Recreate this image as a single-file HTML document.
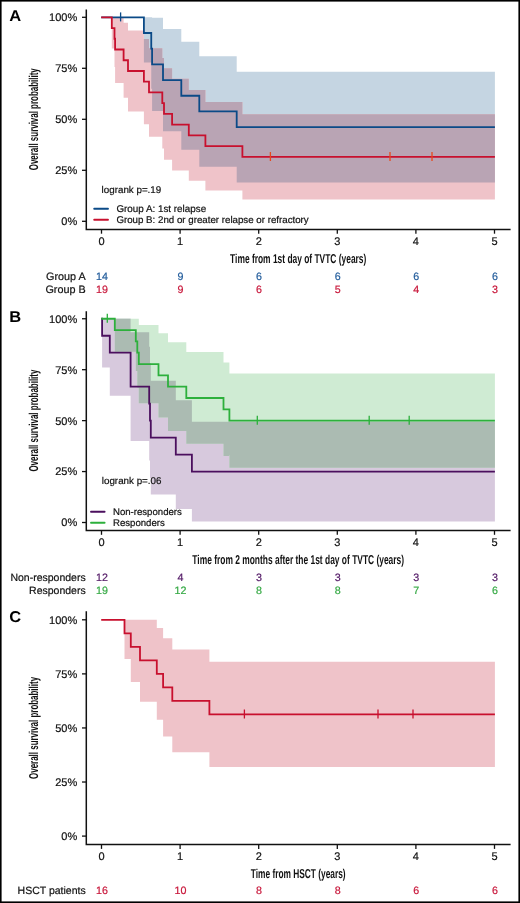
<!DOCTYPE html>
<html><head><meta charset="utf-8"><style>
html,body{margin:0;padding:0;background:#fff;}
svg{display:block;will-change:transform;}
text{font-family:"Liberation Sans", sans-serif;text-rendering:geometricPrecision;}
</style></head><body>
<svg width="520" height="903" viewBox="0 0 520 903">
<rect x="0" y="0" width="520" height="903" fill="#fff"/>

<path d="M143.90,17.30L151.25,17.30L151.25,17.30L152.10,17.30L152.10,17.65L163.00,17.65L163.00,28.89L181.30,28.89L181.30,41.81L199.30,41.81L199.30,56.17L236.70,56.17L236.70,71.86L494.90,71.86L494.90,182.43L236.70,182.43L236.70,166.74L199.30,166.74L199.30,149.71L181.30,149.71L181.30,131.25L163.00,131.25L163.00,111.10L152.10,111.10L152.10,88.70L151.25,88.70L151.25,62.54L143.90,62.54Z" fill="#c5d5e2"/>
<path d="M111.80,17.30L114.50,17.30L114.50,17.30L115.10,17.30L115.10,17.30L123.60,17.30L123.60,22.85L128.00,22.85L128.00,30.59L143.90,30.59L143.90,39.08L149.00,39.08L149.00,48.21L162.30,48.21L162.30,57.91L164.00,57.91L164.00,68.13L172.10,68.13L172.10,78.87L188.80,78.87L188.80,90.12L205.40,90.12L205.40,101.89L242.40,101.89L242.40,114.24L494.90,114.24L494.90,199.52L242.40,199.52L242.40,190.39L205.40,190.39L205.40,180.69L188.80,180.69L188.80,170.47L172.10,170.47L172.10,159.73L164.00,159.73L164.00,148.48L162.30,148.48L162.30,136.71L149.00,136.71L149.00,124.36L143.90,124.36L143.90,111.38L128.00,111.38L128.00,97.64L123.60,97.64L123.60,82.96L115.10,82.96L115.10,66.92L114.50,66.92L114.50,48.52L111.80,48.52Z" fill="#efc3c9"/>
<path d="M143.90,39.08H149.00V62.54H143.90ZM149.00,48.21H151.25V62.54H149.00ZM151.25,48.21H152.10V88.70H151.25ZM152.10,48.21H162.30V111.10H152.10ZM162.30,57.91H163.00V111.10H162.30ZM163.00,57.91H164.00V131.25H163.00ZM164.00,68.13H172.10V131.25H164.00ZM172.10,78.87H181.30V131.25H172.10ZM181.30,78.87H188.80V149.71H181.30ZM188.80,90.12H199.30V149.71H188.80ZM199.30,90.12H205.40V166.74H199.30ZM205.40,101.89H236.70V166.74H205.40ZM236.70,101.89H242.40V182.43H236.70ZM242.40,114.24H494.90V182.43H242.40Z" fill="#b9a4b4"/>
<path d="M101.20,17.30H143.90V32.99H151.25V48.68H152.10V64.38H163.00V80.07H181.30V95.76H199.30V111.45H236.70V127.15H494.90" fill="none" stroke="#0b4a87" stroke-width="1.8" stroke-linejoin="miter" stroke-linecap="butt"/>
<path d="M120.60,12.40V21.40" stroke="#0b4a87" stroke-width="1.3"/>
<path d="M101.20,17.30H111.80V28.04H114.50V38.77H115.10V49.51H123.60V60.25H128.00V70.98H143.90V81.72H149.00V92.46H162.30V103.19H164.00V113.93H172.10V124.67H188.80V135.41H205.40V146.14H242.40V156.88H494.90" fill="none" stroke="#c8102e" stroke-width="1.8" stroke-linejoin="miter" stroke-linecap="butt"/>
<path d="M270.40,151.98V160.98M390.00,151.98V160.98M432.00,151.98V160.98" stroke="#e8481c" stroke-width="1.3"/>
<path d="M86.3,9.4V229.4H510.6" fill="none" stroke="#111" stroke-width="1.5"/>
<path d="M82,221.30H86.3" stroke="#111" stroke-width="1.3"/>
<text x="77.2" y="225.20" font-size="11" text-anchor="end" fill="#111" stroke="#111" stroke-width="0.2">0%</text>
<path d="M82,170.30H86.3" stroke="#111" stroke-width="1.3"/>
<text x="77.2" y="174.20" font-size="11" text-anchor="end" fill="#111" stroke="#111" stroke-width="0.2">25%</text>
<path d="M82,119.30H86.3" stroke="#111" stroke-width="1.3"/>
<text x="77.2" y="123.20" font-size="11" text-anchor="end" fill="#111" stroke="#111" stroke-width="0.2">50%</text>
<path d="M82,68.30H86.3" stroke="#111" stroke-width="1.3"/>
<text x="77.2" y="72.20" font-size="11" text-anchor="end" fill="#111" stroke="#111" stroke-width="0.2">75%</text>
<path d="M82,17.30H86.3" stroke="#111" stroke-width="1.3"/>
<text x="77.2" y="21.20" font-size="11" text-anchor="end" fill="#111" stroke="#111" stroke-width="0.2">100%</text>
<path d="M101.50,229.4V233.70" stroke="#111" stroke-width="1.3"/>
<text x="101.50" y="244.90" font-size="11" text-anchor="middle" fill="#111" stroke="#111" stroke-width="0.2">0</text>
<path d="M180.10,229.4V233.70" stroke="#111" stroke-width="1.3"/>
<text x="180.10" y="244.90" font-size="11" text-anchor="middle" fill="#111" stroke="#111" stroke-width="0.2">1</text>
<path d="M258.70,229.4V233.70" stroke="#111" stroke-width="1.3"/>
<text x="258.70" y="244.90" font-size="11" text-anchor="middle" fill="#111" stroke="#111" stroke-width="0.2">2</text>
<path d="M337.30,229.4V233.70" stroke="#111" stroke-width="1.3"/>
<text x="337.30" y="244.90" font-size="11" text-anchor="middle" fill="#111" stroke="#111" stroke-width="0.2">3</text>
<path d="M415.90,229.4V233.70" stroke="#111" stroke-width="1.3"/>
<text x="415.90" y="244.90" font-size="11" text-anchor="middle" fill="#111" stroke="#111" stroke-width="0.2">4</text>
<path d="M494.50,229.4V233.70" stroke="#111" stroke-width="1.3"/>
<text x="494.50" y="244.90" font-size="11" text-anchor="middle" fill="#111" stroke="#111" stroke-width="0.2">5</text>
<text x="298.2" y="263.20" font-size="12.9" font-weight="bold" text-anchor="middle" textLength="136.2" lengthAdjust="spacingAndGlyphs" fill="#111">Time from 1st day of TVTC (years)</text>
<text transform="translate(37.9,119.30) rotate(-90)" x="0" y="0" font-size="12.9" font-weight="bold" text-anchor="middle" textLength="102" lengthAdjust="spacingAndGlyphs" fill="#111">Overall survival probability</text>
<text transform="translate(9.2,20.9) scale(1.06,1)" font-size="15.6" font-weight="bold" fill="#000">A</text>
<text x="85.7" y="279.7" font-size="10.8" text-anchor="end" fill="#111" stroke="#111" stroke-width="0.2">Group A</text>
<text x="101.90" y="279.7" font-size="10.7" text-anchor="middle" fill="#1f5a9a" stroke="#1f5a9a" stroke-width="0.2">14</text>
<text x="180.50" y="279.7" font-size="10.7" text-anchor="middle" fill="#1f5a9a" stroke="#1f5a9a" stroke-width="0.2">9</text>
<text x="259.10" y="279.7" font-size="10.7" text-anchor="middle" fill="#1f5a9a" stroke="#1f5a9a" stroke-width="0.2">6</text>
<text x="337.70" y="279.7" font-size="10.7" text-anchor="middle" fill="#1f5a9a" stroke="#1f5a9a" stroke-width="0.2">6</text>
<text x="416.30" y="279.7" font-size="10.7" text-anchor="middle" fill="#1f5a9a" stroke="#1f5a9a" stroke-width="0.2">6</text>
<text x="494.90" y="279.7" font-size="10.7" text-anchor="middle" fill="#1f5a9a" stroke="#1f5a9a" stroke-width="0.2">6</text>
<text x="85.7" y="292.6" font-size="10.8" text-anchor="end" fill="#111" stroke="#111" stroke-width="0.2">Group B</text>
<text x="101.90" y="292.6" font-size="10.7" text-anchor="middle" fill="#c8163a" stroke="#c8163a" stroke-width="0.2">19</text>
<text x="180.50" y="292.6" font-size="10.7" text-anchor="middle" fill="#c8163a" stroke="#c8163a" stroke-width="0.2">9</text>
<text x="259.10" y="292.6" font-size="10.7" text-anchor="middle" fill="#c8163a" stroke="#c8163a" stroke-width="0.2">6</text>
<text x="337.70" y="292.6" font-size="10.7" text-anchor="middle" fill="#c8163a" stroke="#c8163a" stroke-width="0.2">5</text>
<text x="416.30" y="292.6" font-size="10.7" text-anchor="middle" fill="#c8163a" stroke="#c8163a" stroke-width="0.2">4</text>
<text x="494.90" y="292.6" font-size="10.7" text-anchor="middle" fill="#c8163a" stroke="#c8163a" stroke-width="0.2">3</text>
<text x="101.6" y="193.1" font-size="9.8" fill="#111" stroke="#111" stroke-width="0.2">logrank p=.19</text>
<path d="M94.2,208.7H108.0" stroke="#0b4a87" stroke-width="1.9" stroke-linecap="round"/>
<text x="116.4" y="212.3" font-size="9.85" fill="#111" stroke="#111" stroke-width="0.2">Group A: 1st relapse</text>
<path d="M94.2,219.8H108.0" stroke="#c8102e" stroke-width="1.9" stroke-linecap="round"/>
<text x="116.4" y="223.2" font-size="9.72" fill="#111" stroke="#111" stroke-width="0.2">Group B: 2nd or greater relapse or refractory</text>
<path d="M102.10,318.75L109.80,318.75L109.80,318.75L130.60,318.75L130.60,332.32L149.20,332.32L149.20,346.81L150.00,346.81L150.00,362.98L150.80,362.98L150.80,380.77L175.80,380.77L175.80,400.24L191.90,400.24L191.90,421.64L494.90,421.64L494.90,521.48L191.90,521.48L191.90,508.93L175.80,508.93L175.80,494.44L150.80,494.44L150.80,478.27L150.00,478.27L150.00,460.48L149.20,460.48L149.20,441.01L130.60,441.01L130.60,395.67L109.80,395.67L109.80,367.59L102.10,367.59Z" fill="#d7c9dd"/>
<path d="M114.80,318.75L135.80,318.75L135.80,318.75L137.30,318.75L137.30,318.75L138.80,318.75L138.80,324.90L158.50,324.90L158.50,333.19L168.00,333.19L168.00,342.29L186.30,342.29L186.30,352.10L223.50,352.10L223.50,362.53L229.40,362.53L229.40,373.56L494.90,373.56L494.90,467.69L229.40,467.69L229.40,456.08L223.50,456.08L223.50,443.87L186.30,443.87L186.30,431.04L168.00,431.04L168.00,417.51L158.50,417.51L158.50,403.16L138.80,403.16L138.80,387.79L137.30,387.79L137.30,370.97L135.80,370.97L135.80,351.63L114.80,351.63Z" fill="#cfebd3"/>
<path d="M114.80,318.75H130.60V351.63H114.80ZM130.60,332.32H135.80V351.63H130.60ZM135.80,332.32H137.30V370.97H135.80ZM137.30,332.32H138.80V387.79H137.30ZM138.80,332.32H149.20V403.16H138.80ZM149.20,346.81H150.00V403.16H149.20ZM150.00,362.98H150.80V403.16H150.00ZM150.80,380.77H158.50V403.16H150.80ZM158.50,380.77H168.00V417.51H158.50ZM168.00,380.77H175.80V431.04H168.00ZM175.80,400.24H186.30V431.04H175.80ZM186.30,400.24H191.90V443.87H186.30ZM191.90,421.64H223.50V443.87H191.90ZM223.50,421.64H229.40V456.08H223.50ZM229.40,421.64H494.90V467.69H229.40Z" fill="#abbbb2"/>
<path d="M101.20,318.75H102.10V335.73H109.80V352.71H130.60V386.67H149.20V403.65H150.00V420.62H150.80V437.60H175.80V454.58H191.90V471.56H494.90" fill="none" stroke="#4b0f5e" stroke-width="1.8" stroke-linejoin="miter" stroke-linecap="butt"/>
<path d="" stroke="#4b0f5e" stroke-width="1.3"/>
<path d="M101.20,318.75H114.80V330.07H135.80V341.39H137.30V352.71H138.80V364.03H158.50V375.35H168.00V386.67H186.30V397.99H223.50V409.31H229.40V420.62H494.90" fill="none" stroke="#2db03c" stroke-width="1.8" stroke-linejoin="miter" stroke-linecap="butt"/>
<path d="M107.30,313.85V322.85M257.30,415.73V424.73M369.20,415.73V424.73M409.20,415.73V424.73" stroke="#2db03c" stroke-width="1.3"/>
<path d="M86.3,311.3V530.5H510.6" fill="none" stroke="#111" stroke-width="1.5"/>
<path d="M82,522.50H86.3" stroke="#111" stroke-width="1.3"/>
<text x="77.2" y="526.40" font-size="11" text-anchor="end" fill="#111" stroke="#111" stroke-width="0.2">0%</text>
<path d="M82,471.56H86.3" stroke="#111" stroke-width="1.3"/>
<text x="77.2" y="475.46" font-size="11" text-anchor="end" fill="#111" stroke="#111" stroke-width="0.2">25%</text>
<path d="M82,420.62H86.3" stroke="#111" stroke-width="1.3"/>
<text x="77.2" y="424.52" font-size="11" text-anchor="end" fill="#111" stroke="#111" stroke-width="0.2">50%</text>
<path d="M82,369.69H86.3" stroke="#111" stroke-width="1.3"/>
<text x="77.2" y="373.59" font-size="11" text-anchor="end" fill="#111" stroke="#111" stroke-width="0.2">75%</text>
<path d="M82,318.75H86.3" stroke="#111" stroke-width="1.3"/>
<text x="77.2" y="322.65" font-size="11" text-anchor="end" fill="#111" stroke="#111" stroke-width="0.2">100%</text>
<path d="M101.50,530.5V534.80" stroke="#111" stroke-width="1.3"/>
<text x="101.50" y="546.00" font-size="11" text-anchor="middle" fill="#111" stroke="#111" stroke-width="0.2">0</text>
<path d="M180.10,530.5V534.80" stroke="#111" stroke-width="1.3"/>
<text x="180.10" y="546.00" font-size="11" text-anchor="middle" fill="#111" stroke="#111" stroke-width="0.2">1</text>
<path d="M258.70,530.5V534.80" stroke="#111" stroke-width="1.3"/>
<text x="258.70" y="546.00" font-size="11" text-anchor="middle" fill="#111" stroke="#111" stroke-width="0.2">2</text>
<path d="M337.30,530.5V534.80" stroke="#111" stroke-width="1.3"/>
<text x="337.30" y="546.00" font-size="11" text-anchor="middle" fill="#111" stroke="#111" stroke-width="0.2">3</text>
<path d="M415.90,530.5V534.80" stroke="#111" stroke-width="1.3"/>
<text x="415.90" y="546.00" font-size="11" text-anchor="middle" fill="#111" stroke="#111" stroke-width="0.2">4</text>
<path d="M494.50,530.5V534.80" stroke="#111" stroke-width="1.3"/>
<text x="494.50" y="546.00" font-size="11" text-anchor="middle" fill="#111" stroke="#111" stroke-width="0.2">5</text>
<text x="298.2" y="564.30" font-size="12.9" font-weight="bold" text-anchor="middle" textLength="211.7" lengthAdjust="spacingAndGlyphs" fill="#111">Time from 2 months after the 1st day of TVTC (years)</text>
<text transform="translate(37.9,420.62) rotate(-90)" x="0" y="0" font-size="12.9" font-weight="bold" text-anchor="middle" textLength="102" lengthAdjust="spacingAndGlyphs" fill="#111">Overall survival probability</text>
<text transform="translate(9.2,322.2) scale(1.06,1)" font-size="15.6" font-weight="bold" fill="#000">B</text>
<text x="85.7" y="580.5" font-size="10.5" text-anchor="end" fill="#111" stroke="#111" stroke-width="0.2">Non-responders</text>
<text x="101.90" y="580.5" font-size="10.7" text-anchor="middle" fill="#58206b" stroke="#58206b" stroke-width="0.2">12</text>
<text x="180.50" y="580.5" font-size="10.7" text-anchor="middle" fill="#58206b" stroke="#58206b" stroke-width="0.2">4</text>
<text x="259.10" y="580.5" font-size="10.7" text-anchor="middle" fill="#58206b" stroke="#58206b" stroke-width="0.2">3</text>
<text x="337.70" y="580.5" font-size="10.7" text-anchor="middle" fill="#58206b" stroke="#58206b" stroke-width="0.2">3</text>
<text x="416.30" y="580.5" font-size="10.7" text-anchor="middle" fill="#58206b" stroke="#58206b" stroke-width="0.2">3</text>
<text x="494.90" y="580.5" font-size="10.7" text-anchor="middle" fill="#58206b" stroke="#58206b" stroke-width="0.2">3</text>
<text x="85.7" y="593.8" font-size="10.5" text-anchor="end" fill="#111" stroke="#111" stroke-width="0.2">Responders</text>
<text x="101.90" y="593.8" font-size="10.7" text-anchor="middle" fill="#35a944" stroke="#35a944" stroke-width="0.2">19</text>
<text x="180.50" y="593.8" font-size="10.7" text-anchor="middle" fill="#35a944" stroke="#35a944" stroke-width="0.2">12</text>
<text x="259.10" y="593.8" font-size="10.7" text-anchor="middle" fill="#35a944" stroke="#35a944" stroke-width="0.2">8</text>
<text x="337.70" y="593.8" font-size="10.7" text-anchor="middle" fill="#35a944" stroke="#35a944" stroke-width="0.2">8</text>
<text x="416.30" y="593.8" font-size="10.7" text-anchor="middle" fill="#35a944" stroke="#35a944" stroke-width="0.2">7</text>
<text x="494.90" y="593.8" font-size="10.7" text-anchor="middle" fill="#35a944" stroke="#35a944" stroke-width="0.2">6</text>
<text x="101.8" y="483.8" font-size="9.8" fill="#111" stroke="#111" stroke-width="0.2">logrank p=.06</text>
<path d="M91.0,511.8H104.6" stroke="#4b0f5e" stroke-width="1.9" stroke-linecap="round"/>
<text x="113.0" y="514.8" font-size="9.6" fill="#111" stroke="#111" stroke-width="0.2">Non-responders</text>
<path d="M91.0,522.8H104.6" stroke="#2db03c" stroke-width="1.9" stroke-linecap="round"/>
<text x="113.0" y="525.6" font-size="9.6" fill="#111" stroke="#111" stroke-width="0.2">Responders</text>
<path d="M124.50,619.80L130.80,619.80L130.80,619.80L140.00,619.80L140.00,619.80L156.80,619.80L156.80,627.98L163.10,627.98L163.10,638.27L172.30,638.27L172.30,649.60L209.40,649.60L209.40,661.85L494.90,661.85L494.90,767.01L209.40,767.01L209.40,752.22L172.30,752.22L172.30,736.52L163.10,736.52L163.10,719.77L156.80,719.77L156.80,701.72L140.00,701.72L140.00,681.89L130.80,681.89L130.80,658.97L124.50,658.97Z" fill="#efc3c9"/>
<path d="M101.20,619.80H124.50V633.32H130.80V646.84H140.00V660.36H156.80V673.88H163.10V687.39H172.30V700.91H209.40V714.43H494.90" fill="none" stroke="#c8102e" stroke-width="1.8" stroke-linejoin="miter" stroke-linecap="butt"/>
<path d="M244.40,709.53V718.53M378.00,709.53V718.53M413.00,709.53V718.53" stroke="#c8102e" stroke-width="1.3"/>
<path d="M86.3,611.3V844.6H510.6" fill="none" stroke="#111" stroke-width="1.5"/>
<path d="M82,836.10H86.3" stroke="#111" stroke-width="1.3"/>
<text x="77.2" y="840.00" font-size="11" text-anchor="end" fill="#111" stroke="#111" stroke-width="0.2">0%</text>
<path d="M82,782.02H86.3" stroke="#111" stroke-width="1.3"/>
<text x="77.2" y="785.92" font-size="11" text-anchor="end" fill="#111" stroke="#111" stroke-width="0.2">25%</text>
<path d="M82,727.95H86.3" stroke="#111" stroke-width="1.3"/>
<text x="77.2" y="731.85" font-size="11" text-anchor="end" fill="#111" stroke="#111" stroke-width="0.2">50%</text>
<path d="M82,673.88H86.3" stroke="#111" stroke-width="1.3"/>
<text x="77.2" y="677.77" font-size="11" text-anchor="end" fill="#111" stroke="#111" stroke-width="0.2">75%</text>
<path d="M82,619.80H86.3" stroke="#111" stroke-width="1.3"/>
<text x="77.2" y="623.70" font-size="11" text-anchor="end" fill="#111" stroke="#111" stroke-width="0.2">100%</text>
<path d="M101.50,844.6V848.90" stroke="#111" stroke-width="1.3"/>
<text x="101.50" y="860.10" font-size="11" text-anchor="middle" fill="#111" stroke="#111" stroke-width="0.2">0</text>
<path d="M180.10,844.6V848.90" stroke="#111" stroke-width="1.3"/>
<text x="180.10" y="860.10" font-size="11" text-anchor="middle" fill="#111" stroke="#111" stroke-width="0.2">1</text>
<path d="M258.70,844.6V848.90" stroke="#111" stroke-width="1.3"/>
<text x="258.70" y="860.10" font-size="11" text-anchor="middle" fill="#111" stroke="#111" stroke-width="0.2">2</text>
<path d="M337.30,844.6V848.90" stroke="#111" stroke-width="1.3"/>
<text x="337.30" y="860.10" font-size="11" text-anchor="middle" fill="#111" stroke="#111" stroke-width="0.2">3</text>
<path d="M415.90,844.6V848.90" stroke="#111" stroke-width="1.3"/>
<text x="415.90" y="860.10" font-size="11" text-anchor="middle" fill="#111" stroke="#111" stroke-width="0.2">4</text>
<path d="M494.50,844.6V848.90" stroke="#111" stroke-width="1.3"/>
<text x="494.50" y="860.10" font-size="11" text-anchor="middle" fill="#111" stroke="#111" stroke-width="0.2">5</text>
<text x="298.2" y="878.40" font-size="12.9" font-weight="bold" text-anchor="middle" textLength="94.9" lengthAdjust="spacingAndGlyphs" fill="#111">Time from HSCT (years)</text>
<text transform="translate(37.9,727.95) rotate(-90)" x="0" y="0" font-size="12.9" font-weight="bold" text-anchor="middle" textLength="102" lengthAdjust="spacingAndGlyphs" fill="#111">Overall survival probability</text>
<text transform="translate(9.2,622.4) scale(1.06,1)" font-size="15.6" font-weight="bold" fill="#000">C</text>
<text x="85.7" y="893.9" font-size="10.5" text-anchor="end" fill="#111" stroke="#111" stroke-width="0.2">HSCT patients</text>
<text x="101.90" y="893.9" font-size="10.7" text-anchor="middle" fill="#c8163a" stroke="#c8163a" stroke-width="0.2">16</text>
<text x="180.50" y="893.9" font-size="10.7" text-anchor="middle" fill="#c8163a" stroke="#c8163a" stroke-width="0.2">10</text>
<text x="259.10" y="893.9" font-size="10.7" text-anchor="middle" fill="#c8163a" stroke="#c8163a" stroke-width="0.2">8</text>
<text x="337.70" y="893.9" font-size="10.7" text-anchor="middle" fill="#c8163a" stroke="#c8163a" stroke-width="0.2">8</text>
<text x="416.30" y="893.9" font-size="10.7" text-anchor="middle" fill="#c8163a" stroke="#c8163a" stroke-width="0.2">6</text>
<text x="494.90" y="893.9" font-size="10.7" text-anchor="middle" fill="#c8163a" stroke="#c8163a" stroke-width="0.2">6</text>
<rect x="0.8" y="0.8" width="518.4" height="901.4" fill="none" stroke="#000" stroke-width="1.6"/>
</svg></body></html>
